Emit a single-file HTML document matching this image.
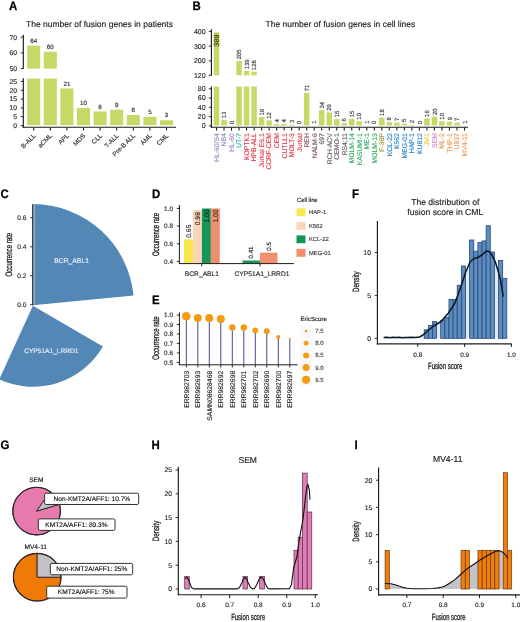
<!DOCTYPE html>
<html><head><meta charset="utf-8"><style>
html,body{margin:0;padding:0;background:#fff;}
body{width:520px;height:622px;overflow:hidden;}
svg{display:block;filter:blur(0.35px);font-family:"Liberation Sans", sans-serif;will-change:transform;text-rendering:geometricPrecision;}
</style></head><body>
<svg width="520" height="622" viewBox="0 0 520 622">
<rect x="0" y="0" width="520" height="622" fill="#fff"/>
<text x="9" y="10.2" font-size="12.3" fill="#000" font-weight="bold" textLength="8.26" lengthAdjust="spacingAndGlyphs" stroke="#000" stroke-width="0.25">A</text>
<text x="26" y="26.7" font-size="8.5" fill="#222" stroke="#222" stroke-width="0.15">The number of fusion genes in patients</text>
<line x1="23.3" y1="34.8" x2="23.3" y2="68.8" stroke="#1a1a1a" stroke-width="1.15"/>
<line x1="23.3" y1="78.3" x2="23.3" y2="127.7" stroke="#1a1a1a" stroke-width="1.15"/>
<line x1="20.7" y1="37.2" x2="23.3" y2="37.2" stroke="#1a1a1a" stroke-width="0.9"/>
<text x="17.1" y="39.54" font-size="6.8" fill="#2a2a2a" text-anchor="end" stroke="#2a2a2a" stroke-width="0.15">70</text>
<line x1="20.7" y1="52.9" x2="23.3" y2="52.9" stroke="#1a1a1a" stroke-width="0.9"/>
<text x="17.1" y="55.24" font-size="6.8" fill="#2a2a2a" text-anchor="end" stroke="#2a2a2a" stroke-width="0.15">60</text>
<line x1="20.7" y1="68.6" x2="23.3" y2="68.6" stroke="#1a1a1a" stroke-width="0.9"/>
<text x="17.1" y="70.94" font-size="6.8" fill="#2a2a2a" text-anchor="end" stroke="#2a2a2a" stroke-width="0.15">50</text>
<line x1="20.7" y1="81.4" x2="23.3" y2="81.4" stroke="#1a1a1a" stroke-width="0.9"/>
<text x="17.1" y="83.74" font-size="6.8" fill="#2a2a2a" text-anchor="end" stroke="#2a2a2a" stroke-width="0.15">25</text>
<line x1="20.7" y1="90.24" x2="23.3" y2="90.24" stroke="#1a1a1a" stroke-width="0.9"/>
<text x="17.1" y="92.58" font-size="6.8" fill="#2a2a2a" text-anchor="end" stroke="#2a2a2a" stroke-width="0.15">20</text>
<line x1="20.7" y1="99.08" x2="23.3" y2="99.08" stroke="#1a1a1a" stroke-width="0.9"/>
<text x="17.1" y="101.42" font-size="6.8" fill="#2a2a2a" text-anchor="end" stroke="#2a2a2a" stroke-width="0.15">15</text>
<line x1="20.7" y1="107.92" x2="23.3" y2="107.92" stroke="#1a1a1a" stroke-width="0.9"/>
<text x="17.1" y="110.26" font-size="6.8" fill="#2a2a2a" text-anchor="end" stroke="#2a2a2a" stroke-width="0.15">10</text>
<line x1="20.7" y1="116.76" x2="23.3" y2="116.76" stroke="#1a1a1a" stroke-width="0.9"/>
<text x="17.1" y="119.1" font-size="6.8" fill="#2a2a2a" text-anchor="end" stroke="#2a2a2a" stroke-width="0.15">5</text>
<line x1="20.7" y1="125.6" x2="23.3" y2="125.6" stroke="#1a1a1a" stroke-width="0.9"/>
<text x="17.1" y="127.94" font-size="6.8" fill="#2a2a2a" text-anchor="end" stroke="#2a2a2a" stroke-width="0.15">0</text>
<rect x="27.2" y="45.6" width="13" height="23" fill="#c6d866"/>
<rect x="27.2" y="78.6" width="13" height="46.6" fill="#c6d866"/>
<text x="33.7" y="42.7" font-size="6.2" fill="#2a2a2a" text-anchor="middle" stroke="#2a2a2a" stroke-width="0.15">64</text>
<line x1="33.7" y1="127.5" x2="33.7" y2="130.4" stroke="#1a1a1a" stroke-width="1.1"/>
<text transform="translate(36.01,136.11) rotate(-45)" x="0" y="0" font-size="6.4" fill="#2a2a2a" text-anchor="end" stroke="#2a2a2a" stroke-width="0.15">B-ALL</text>
<rect x="43.8" y="51.8" width="13" height="16.8" fill="#c6d866"/>
<rect x="43.8" y="78.6" width="13" height="46.6" fill="#c6d866"/>
<text x="50.3" y="48.9" font-size="6.2" fill="#2a2a2a" text-anchor="middle" stroke="#2a2a2a" stroke-width="0.15">60</text>
<line x1="50.3" y1="127.5" x2="50.3" y2="130.4" stroke="#1a1a1a" stroke-width="1.1"/>
<text transform="translate(52.61,136.11) rotate(-45)" x="0" y="0" font-size="6.4" fill="#2a2a2a" text-anchor="end" stroke="#2a2a2a" stroke-width="0.15">aCML</text>
<rect x="60.4" y="88.47" width="13" height="36.73" fill="#c6d866"/>
<text x="66.9" y="85.57" font-size="6.2" fill="#2a2a2a" text-anchor="middle" stroke="#2a2a2a" stroke-width="0.15">21</text>
<line x1="66.9" y1="127.5" x2="66.9" y2="130.4" stroke="#1a1a1a" stroke-width="1.1"/>
<text transform="translate(69.21,136.11) rotate(-45)" x="0" y="0" font-size="6.4" fill="#2a2a2a" text-anchor="end" stroke="#2a2a2a" stroke-width="0.15">APL</text>
<rect x="77" y="107.92" width="13" height="17.28" fill="#c6d866"/>
<text x="83.5" y="105.02" font-size="6.2" fill="#2a2a2a" text-anchor="middle" stroke="#2a2a2a" stroke-width="0.15">10</text>
<line x1="83.5" y1="127.5" x2="83.5" y2="130.4" stroke="#1a1a1a" stroke-width="1.1"/>
<text transform="translate(85.81,136.11) rotate(-45)" x="0" y="0" font-size="6.4" fill="#2a2a2a" text-anchor="end" stroke="#2a2a2a" stroke-width="0.15">MDS</text>
<rect x="93.6" y="111.46" width="13" height="13.74" fill="#c6d866"/>
<text x="100.1" y="108.56" font-size="6.2" fill="#2a2a2a" text-anchor="middle" stroke="#2a2a2a" stroke-width="0.15">8</text>
<line x1="100.1" y1="127.5" x2="100.1" y2="130.4" stroke="#1a1a1a" stroke-width="1.1"/>
<text transform="translate(102.41,136.11) rotate(-45)" x="0" y="0" font-size="6.4" fill="#2a2a2a" text-anchor="end" stroke="#2a2a2a" stroke-width="0.15">CLL</text>
<rect x="110.2" y="109.69" width="13" height="15.51" fill="#c6d866"/>
<text x="116.7" y="106.79" font-size="6.2" fill="#2a2a2a" text-anchor="middle" stroke="#2a2a2a" stroke-width="0.15">9</text>
<line x1="116.7" y1="127.5" x2="116.7" y2="130.4" stroke="#1a1a1a" stroke-width="1.1"/>
<text transform="translate(119.01,136.11) rotate(-45)" x="0" y="0" font-size="6.4" fill="#2a2a2a" text-anchor="end" stroke="#2a2a2a" stroke-width="0.15">T-ALL</text>
<rect x="126.8" y="114.99" width="13" height="10.21" fill="#c6d866"/>
<text x="133.3" y="112.09" font-size="6.2" fill="#2a2a2a" text-anchor="middle" stroke="#2a2a2a" stroke-width="0.15">6</text>
<line x1="133.3" y1="127.5" x2="133.3" y2="130.4" stroke="#1a1a1a" stroke-width="1.1"/>
<text transform="translate(135.61,136.11) rotate(-45)" x="0" y="0" font-size="6.4" fill="#2a2a2a" text-anchor="end" stroke="#2a2a2a" stroke-width="0.15">Pre-B ALL</text>
<rect x="143.4" y="116.76" width="13" height="8.44" fill="#c6d866"/>
<text x="149.9" y="113.86" font-size="6.2" fill="#2a2a2a" text-anchor="middle" stroke="#2a2a2a" stroke-width="0.15">5</text>
<line x1="149.9" y1="127.5" x2="149.9" y2="130.4" stroke="#1a1a1a" stroke-width="1.1"/>
<text transform="translate(152.21,136.11) rotate(-45)" x="0" y="0" font-size="6.4" fill="#2a2a2a" text-anchor="end" stroke="#2a2a2a" stroke-width="0.15">AML</text>
<rect x="160" y="120.3" width="13" height="4.9" fill="#c6d866"/>
<text x="166.5" y="117.4" font-size="6.2" fill="#2a2a2a" text-anchor="middle" stroke="#2a2a2a" stroke-width="0.15">3</text>
<line x1="166.5" y1="127.5" x2="166.5" y2="130.4" stroke="#1a1a1a" stroke-width="1.1"/>
<text transform="translate(168.81,136.11) rotate(-45)" x="0" y="0" font-size="6.4" fill="#2a2a2a" text-anchor="end" stroke="#2a2a2a" stroke-width="0.15">CML</text>
<line x1="22.75" y1="127.2" x2="176" y2="127.2" stroke="#1a1a1a" stroke-width="1.15"/>
<text x="192.5" y="10.3" font-size="12.3" fill="#000" font-weight="bold" textLength="8.26" lengthAdjust="spacingAndGlyphs" stroke="#000" stroke-width="0.25">B</text>
<text x="265.5" y="26.7" font-size="8.5" fill="#222" stroke="#222" stroke-width="0.15">The number of fusion genes in cell lines</text>
<line x1="211.4" y1="29.2" x2="211.4" y2="75.5" stroke="#1a1a1a" stroke-width="1.15"/>
<line x1="211.4" y1="86.4" x2="211.4" y2="127.7" stroke="#1a1a1a" stroke-width="1.15"/>
<line x1="208.8" y1="31.4" x2="211.4" y2="31.4" stroke="#1a1a1a" stroke-width="0.9"/>
<text x="205.6" y="33.81" font-size="7" fill="#2a2a2a" text-anchor="end" stroke="#2a2a2a" stroke-width="0.15">400</text>
<line x1="208.8" y1="46.1" x2="211.4" y2="46.1" stroke="#1a1a1a" stroke-width="0.9"/>
<text x="205.6" y="48.51" font-size="7" fill="#2a2a2a" text-anchor="end" stroke="#2a2a2a" stroke-width="0.15">300</text>
<line x1="208.8" y1="60.8" x2="211.4" y2="60.8" stroke="#1a1a1a" stroke-width="0.9"/>
<text x="205.6" y="63.21" font-size="7" fill="#2a2a2a" text-anchor="end" stroke="#2a2a2a" stroke-width="0.15">200</text>
<line x1="208.8" y1="75.3" x2="211.4" y2="75.3" stroke="#1a1a1a" stroke-width="0.9"/>
<text x="205.6" y="77.71" font-size="7" fill="#2a2a2a" text-anchor="end" stroke="#2a2a2a" stroke-width="0.15">120</text>
<line x1="208.8" y1="88.8" x2="211.4" y2="88.8" stroke="#1a1a1a" stroke-width="0.9"/>
<text x="205.6" y="91.2" font-size="7" fill="#2a2a2a" text-anchor="end" stroke="#2a2a2a" stroke-width="0.15">80</text>
<line x1="208.8" y1="98.07" x2="211.4" y2="98.07" stroke="#1a1a1a" stroke-width="0.9"/>
<text x="205.6" y="100.48" font-size="7" fill="#2a2a2a" text-anchor="end" stroke="#2a2a2a" stroke-width="0.15">60</text>
<line x1="208.8" y1="107.35" x2="211.4" y2="107.35" stroke="#1a1a1a" stroke-width="0.9"/>
<text x="205.6" y="109.76" font-size="7" fill="#2a2a2a" text-anchor="end" stroke="#2a2a2a" stroke-width="0.15">40</text>
<line x1="208.8" y1="116.62" x2="211.4" y2="116.62" stroke="#1a1a1a" stroke-width="0.9"/>
<text x="205.6" y="119.03" font-size="7" fill="#2a2a2a" text-anchor="end" stroke="#2a2a2a" stroke-width="0.15">20</text>
<line x1="208.8" y1="125.9" x2="211.4" y2="125.9" stroke="#1a1a1a" stroke-width="0.9"/>
<text x="205.6" y="128.31" font-size="7" fill="#2a2a2a" text-anchor="end" stroke="#2a2a2a" stroke-width="0.15">0</text>
<rect x="213.75" y="32.3" width="5.5" height="43" fill="#c6d866"/>
<rect x="213.75" y="86.6" width="5.5" height="38.9" fill="#c6d866"/>
<text transform="translate(219.02,46.6) rotate(-90)" x="0" y="0" font-size="7.2" fill="#4a5810" stroke="#4a5810" stroke-width="0.35">389</text>
<line x1="216.5" y1="127.5" x2="216.5" y2="130.6" stroke="#1a1a1a" stroke-width="1.1"/>
<text transform="translate(218.88,133.2) rotate(-90)" x="0" y="0" font-size="6.8" fill="#9a8ec2" text-anchor="end" stroke="#9a8ec2" stroke-width="0.15">HL-60/S4</text>
<rect x="221.26" y="119.87" width="5.5" height="5.63" fill="#c6d866"/>
<text transform="translate(226.11,118.27) rotate(-90)" x="0" y="0" font-size="6" fill="#3a3a3a" stroke="#3a3a3a" stroke-width="0.15">13</text>
<line x1="224.01" y1="127.5" x2="224.01" y2="130.6" stroke="#1a1a1a" stroke-width="1.1"/>
<text transform="translate(226.39,133.2) rotate(-90)" x="0" y="0" font-size="6.8" fill="#9a8ec2" text-anchor="end" stroke="#9a8ec2" stroke-width="0.15">NB4</text>
<text transform="translate(233.63,124.3) rotate(-90)" x="0" y="0" font-size="6" fill="#3a3a3a" stroke="#3a3a3a" stroke-width="0.15">0</text>
<line x1="231.53" y1="127.5" x2="231.53" y2="130.6" stroke="#1a1a1a" stroke-width="1.1"/>
<text transform="translate(233.91,133.2) rotate(-90)" x="0" y="0" font-size="6.8" fill="#9a8ec2" text-anchor="end" stroke="#9a8ec2" stroke-width="0.15">HL-60</text>
<rect x="236.29" y="60.9" width="5.5" height="14.4" fill="#c6d866"/>
<rect x="236.29" y="86.6" width="5.5" height="38.9" fill="#c6d866"/>
<text transform="translate(241.14,59.3) rotate(-90)" x="0" y="0" font-size="6" fill="#3a3a3a" stroke="#3a3a3a" stroke-width="0.15">205</text>
<line x1="239.04" y1="127.5" x2="239.04" y2="130.6" stroke="#1a1a1a" stroke-width="1.1"/>
<text transform="translate(241.42,133.2) rotate(-90)" x="0" y="0" font-size="6.8" fill="#3cb4c0" text-anchor="end" stroke="#3cb4c0" stroke-width="0.15">UT-7</text>
<rect x="243.81" y="70.9" width="5.5" height="4.4" fill="#c6d866"/>
<rect x="243.81" y="86.6" width="5.5" height="38.9" fill="#c6d866"/>
<text transform="translate(248.66,69.3) rotate(-90)" x="0" y="0" font-size="6" fill="#3a3a3a" stroke="#3a3a3a" stroke-width="0.15">139</text>
<line x1="246.56" y1="127.5" x2="246.56" y2="130.6" stroke="#1a1a1a" stroke-width="1.1"/>
<text transform="translate(248.94,133.2) rotate(-90)" x="0" y="0" font-size="6.8" fill="#e4404e" text-anchor="end" stroke="#e4404e" stroke-width="0.15">KOPTK1</text>
<rect x="251.32" y="71.8" width="5.5" height="3.5" fill="#c6d866"/>
<rect x="251.32" y="86.6" width="5.5" height="38.9" fill="#c6d866"/>
<text transform="translate(256.18,70.2) rotate(-90)" x="0" y="0" font-size="6" fill="#3a3a3a" stroke="#3a3a3a" stroke-width="0.15">128</text>
<line x1="254.07" y1="127.5" x2="254.07" y2="130.6" stroke="#1a1a1a" stroke-width="1.1"/>
<text transform="translate(256.45,133.2) rotate(-90)" x="0" y="0" font-size="6.8" fill="#e4404e" text-anchor="end" stroke="#e4404e" stroke-width="0.15">HPB-ALL</text>
<rect x="258.84" y="117.09" width="5.5" height="8.41" fill="#c6d866"/>
<text transform="translate(263.69,115.49) rotate(-90)" x="0" y="0" font-size="6" fill="#3a3a3a" stroke="#3a3a3a" stroke-width="0.15">19</text>
<line x1="261.59" y1="127.5" x2="261.59" y2="130.6" stroke="#1a1a1a" stroke-width="1.1"/>
<text transform="translate(263.97,133.2) rotate(-90)" x="0" y="0" font-size="6.8" fill="#e4404e" text-anchor="end" stroke="#e4404e" stroke-width="0.15">Jurkat E6.1</text>
<rect x="266.36" y="120.33" width="5.5" height="5.17" fill="#c6d866"/>
<text transform="translate(271.21,118.73) rotate(-90)" x="0" y="0" font-size="6" fill="#3a3a3a" stroke="#3a3a3a" stroke-width="0.15">12</text>
<line x1="269.11" y1="127.5" x2="269.11" y2="130.6" stroke="#1a1a1a" stroke-width="1.1"/>
<text transform="translate(271.49,133.2) rotate(-90)" x="0" y="0" font-size="6.8" fill="#e4404e" text-anchor="end" stroke="#e4404e" stroke-width="0.15">CCRF-CEM</text>
<rect x="273.87" y="124.04" width="5.5" height="1.46" fill="#c6d866"/>
<text transform="translate(278.72,122.44) rotate(-90)" x="0" y="0" font-size="6" fill="#3a3a3a" stroke="#3a3a3a" stroke-width="0.15">4</text>
<line x1="276.62" y1="127.5" x2="276.62" y2="130.6" stroke="#1a1a1a" stroke-width="1.1"/>
<text transform="translate(279,133.2) rotate(-90)" x="0" y="0" font-size="6.8" fill="#e4404e" text-anchor="end" stroke="#e4404e" stroke-width="0.15">CEM</text>
<rect x="281.38" y="124.04" width="5.5" height="1.46" fill="#c6d866"/>
<text transform="translate(286.24,122.44) rotate(-90)" x="0" y="0" font-size="6" fill="#3a3a3a" stroke="#3a3a3a" stroke-width="0.15">4</text>
<line x1="284.13" y1="127.5" x2="284.13" y2="130.6" stroke="#1a1a1a" stroke-width="1.1"/>
<text transform="translate(286.51,133.2) rotate(-90)" x="0" y="0" font-size="6.8" fill="#e4404e" text-anchor="end" stroke="#e4404e" stroke-width="0.15">CUTLL1</text>
<rect x="288.9" y="124.51" width="5.5" height="0.99" fill="#c6d866"/>
<text transform="translate(293.75,122.91) rotate(-90)" x="0" y="0" font-size="6" fill="#3a3a3a" stroke="#3a3a3a" stroke-width="0.15">3</text>
<line x1="291.65" y1="127.5" x2="291.65" y2="130.6" stroke="#1a1a1a" stroke-width="1.1"/>
<text transform="translate(294.03,133.2) rotate(-90)" x="0" y="0" font-size="6.8" fill="#e4404e" text-anchor="end" stroke="#e4404e" stroke-width="0.15">MOLT-3</text>
<text transform="translate(301.26,124.3) rotate(-90)" x="0" y="0" font-size="6" fill="#3a3a3a" stroke="#3a3a3a" stroke-width="0.15">0</text>
<line x1="299.16" y1="127.5" x2="299.16" y2="130.6" stroke="#1a1a1a" stroke-width="1.1"/>
<text transform="translate(301.54,133.2) rotate(-90)" x="0" y="0" font-size="6.8" fill="#e4404e" text-anchor="end" stroke="#e4404e" stroke-width="0.15">Jurkat</text>
<rect x="303.93" y="92.97" width="5.5" height="32.53" fill="#c6d866"/>
<text transform="translate(308.78,91.37) rotate(-90)" x="0" y="0" font-size="6" fill="#3a3a3a" stroke="#3a3a3a" stroke-width="0.15">71</text>
<line x1="306.68" y1="127.5" x2="306.68" y2="130.6" stroke="#1a1a1a" stroke-width="1.1"/>
<text transform="translate(309.06,133.2) rotate(-90)" x="0" y="0" font-size="6.8" fill="#86586a" text-anchor="end" stroke="#86586a" stroke-width="0.15">REH</text>
<rect x="311.44" y="125.44" width="5.5" height="0.06" fill="#c6d866"/>
<text transform="translate(316.3,123.84) rotate(-90)" x="0" y="0" font-size="6" fill="#3a3a3a" stroke="#3a3a3a" stroke-width="0.15">1</text>
<line x1="314.19" y1="127.5" x2="314.19" y2="130.6" stroke="#1a1a1a" stroke-width="1.1"/>
<text transform="translate(316.57,133.2) rotate(-90)" x="0" y="0" font-size="6.8" fill="#86586a" text-anchor="end" stroke="#86586a" stroke-width="0.15">NALM-6</text>
<rect x="318.96" y="110.13" width="5.5" height="15.37" fill="#c6d866"/>
<text transform="translate(323.81,108.53) rotate(-90)" x="0" y="0" font-size="6" fill="#3a3a3a" stroke="#3a3a3a" stroke-width="0.15">34</text>
<line x1="321.71" y1="127.5" x2="321.71" y2="130.6" stroke="#1a1a1a" stroke-width="1.1"/>
<text transform="translate(324.09,133.2) rotate(-90)" x="0" y="0" font-size="6.8" fill="#6a6468" text-anchor="end" stroke="#6a6468" stroke-width="0.15">697</text>
<rect x="326.48" y="112.45" width="5.5" height="13.05" fill="#c6d866"/>
<text transform="translate(331.33,110.85) rotate(-90)" x="0" y="0" font-size="6" fill="#3a3a3a" stroke="#3a3a3a" stroke-width="0.15">29</text>
<line x1="329.23" y1="127.5" x2="329.23" y2="130.6" stroke="#1a1a1a" stroke-width="1.1"/>
<text transform="translate(331.61,133.2) rotate(-90)" x="0" y="0" font-size="6.8" fill="#6a6468" text-anchor="end" stroke="#6a6468" stroke-width="0.15">RCH-ACV</text>
<rect x="333.99" y="118.94" width="5.5" height="6.56" fill="#c6d866"/>
<text transform="translate(338.84,117.34) rotate(-90)" x="0" y="0" font-size="6" fill="#3a3a3a" stroke="#3a3a3a" stroke-width="0.15">15</text>
<line x1="336.74" y1="127.5" x2="336.74" y2="130.6" stroke="#1a1a1a" stroke-width="1.1"/>
<text transform="translate(339.12,133.2) rotate(-90)" x="0" y="0" font-size="6.8" fill="#6a6468" text-anchor="end" stroke="#6a6468" stroke-width="0.15">CEMO-1</text>
<rect x="341.5" y="123.12" width="5.5" height="2.38" fill="#c6d866"/>
<text transform="translate(346.36,121.52) rotate(-90)" x="0" y="0" font-size="6" fill="#3a3a3a" stroke="#3a3a3a" stroke-width="0.15">6</text>
<line x1="344.25" y1="127.5" x2="344.25" y2="130.6" stroke="#1a1a1a" stroke-width="1.1"/>
<text transform="translate(346.63,133.2) rotate(-90)" x="0" y="0" font-size="6.8" fill="#6a6468" text-anchor="end" stroke="#6a6468" stroke-width="0.15">RS4;11</text>
<rect x="349.02" y="118.94" width="5.5" height="6.56" fill="#c6d866"/>
<text transform="translate(353.87,117.34) rotate(-90)" x="0" y="0" font-size="6" fill="#3a3a3a" stroke="#3a3a3a" stroke-width="0.15">15</text>
<line x1="351.77" y1="127.5" x2="351.77" y2="130.6" stroke="#1a1a1a" stroke-width="1.1"/>
<text transform="translate(354.15,133.2) rotate(-90)" x="0" y="0" font-size="6.8" fill="#3aae6a" text-anchor="end" stroke="#3aae6a" stroke-width="0.15">MOLM-14</text>
<rect x="356.53" y="121.26" width="5.5" height="4.24" fill="#c6d866"/>
<text transform="translate(361.38,119.66) rotate(-90)" x="0" y="0" font-size="6" fill="#3a3a3a" stroke="#3a3a3a" stroke-width="0.15">10</text>
<line x1="359.28" y1="127.5" x2="359.28" y2="130.6" stroke="#1a1a1a" stroke-width="1.1"/>
<text transform="translate(361.66,133.2) rotate(-90)" x="0" y="0" font-size="6.8" fill="#3aae6a" text-anchor="end" stroke="#3aae6a" stroke-width="0.15">KASUMI-1</text>
<rect x="364.05" y="125.44" width="5.5" height="0.06" fill="#c6d866"/>
<text transform="translate(368.9,123.84) rotate(-90)" x="0" y="0" font-size="6" fill="#3a3a3a" stroke="#3a3a3a" stroke-width="0.15">1</text>
<line x1="366.8" y1="127.5" x2="366.8" y2="130.6" stroke="#1a1a1a" stroke-width="1.1"/>
<text transform="translate(369.18,133.2) rotate(-90)" x="0" y="0" font-size="6.8" fill="#3aae6a" text-anchor="end" stroke="#3aae6a" stroke-width="0.15">ME-1</text>
<text transform="translate(376.42,124.3) rotate(-90)" x="0" y="0" font-size="6" fill="#3a3a3a" stroke="#3a3a3a" stroke-width="0.15">0</text>
<line x1="374.31" y1="127.5" x2="374.31" y2="130.6" stroke="#1a1a1a" stroke-width="1.1"/>
<text transform="translate(376.69,133.2) rotate(-90)" x="0" y="0" font-size="6.8" fill="#3aae6a" text-anchor="end" stroke="#3aae6a" stroke-width="0.15">MOLM-13</text>
<rect x="379.08" y="117.55" width="5.5" height="7.95" fill="#c6d866"/>
<text transform="translate(383.93,115.95) rotate(-90)" x="0" y="0" font-size="6" fill="#3a3a3a" stroke="#3a3a3a" stroke-width="0.15">18</text>
<line x1="381.83" y1="127.5" x2="381.83" y2="130.6" stroke="#1a1a1a" stroke-width="1.1"/>
<text transform="translate(384.21,133.2) rotate(-90)" x="0" y="0" font-size="6.8" fill="#98a040" text-anchor="end" stroke="#98a040" stroke-width="0.15">F-36P</text>
<rect x="386.6" y="122.19" width="5.5" height="3.31" fill="#c6d866"/>
<text transform="translate(391.45,120.59) rotate(-90)" x="0" y="0" font-size="6" fill="#3a3a3a" stroke="#3a3a3a" stroke-width="0.15">8</text>
<line x1="389.35" y1="127.5" x2="389.35" y2="130.6" stroke="#1a1a1a" stroke-width="1.1"/>
<text transform="translate(391.73,133.2) rotate(-90)" x="0" y="0" font-size="6.8" fill="#2f86cf" text-anchor="end" stroke="#2f86cf" stroke-width="0.15">KCL-22</text>
<rect x="394.11" y="122.65" width="5.5" height="2.85" fill="#c6d866"/>
<text transform="translate(398.96,121.05) rotate(-90)" x="0" y="0" font-size="6" fill="#3a3a3a" stroke="#3a3a3a" stroke-width="0.15">7</text>
<line x1="396.86" y1="127.5" x2="396.86" y2="130.6" stroke="#1a1a1a" stroke-width="1.1"/>
<text transform="translate(399.24,133.2) rotate(-90)" x="0" y="0" font-size="6.8" fill="#2f86cf" text-anchor="end" stroke="#2f86cf" stroke-width="0.15">K562</text>
<rect x="401.62" y="123.58" width="5.5" height="1.92" fill="#c6d866"/>
<text transform="translate(406.48,121.98) rotate(-90)" x="0" y="0" font-size="6" fill="#3a3a3a" stroke="#3a3a3a" stroke-width="0.15">5</text>
<line x1="404.38" y1="127.5" x2="404.38" y2="130.6" stroke="#1a1a1a" stroke-width="1.1"/>
<text transform="translate(406.75,133.2) rotate(-90)" x="0" y="0" font-size="6.8" fill="#2f86cf" text-anchor="end" stroke="#2f86cf" stroke-width="0.15">MEG-01</text>
<rect x="409.14" y="124.97" width="5.5" height="0.53" fill="#c6d866"/>
<text transform="translate(413.99,123.37) rotate(-90)" x="0" y="0" font-size="6" fill="#3a3a3a" stroke="#3a3a3a" stroke-width="0.15">2</text>
<line x1="411.89" y1="127.5" x2="411.89" y2="130.6" stroke="#1a1a1a" stroke-width="1.1"/>
<text transform="translate(414.27,133.2) rotate(-90)" x="0" y="0" font-size="6.8" fill="#2f86cf" text-anchor="end" stroke="#2f86cf" stroke-width="0.15">HAP-1</text>
<text transform="translate(421.5,124.3) rotate(-90)" x="0" y="0" font-size="6" fill="#3a3a3a" stroke="#3a3a3a" stroke-width="0.15">0</text>
<line x1="419.4" y1="127.5" x2="419.4" y2="130.6" stroke="#1a1a1a" stroke-width="1.1"/>
<text transform="translate(421.78,133.2) rotate(-90)" x="0" y="0" font-size="6.8" fill="#2f86cf" text-anchor="end" stroke="#2f86cf" stroke-width="0.15">KU812</text>
<rect x="424.17" y="118.48" width="5.5" height="7.02" fill="#c6d866"/>
<text transform="translate(429.02,116.88) rotate(-90)" x="0" y="0" font-size="6" fill="#3a3a3a" stroke="#3a3a3a" stroke-width="0.15">16</text>
<line x1="426.92" y1="127.5" x2="426.92" y2="130.6" stroke="#1a1a1a" stroke-width="1.1"/>
<text transform="translate(429.3,133.2) rotate(-90)" x="0" y="0" font-size="6.8" fill="#f3cc55" text-anchor="end" stroke="#f3cc55" stroke-width="0.15">JM1</text>
<rect x="431.69" y="116.62" width="5.5" height="8.88" fill="#c6d866"/>
<text transform="translate(436.54,115.02) rotate(-90)" x="0" y="0" font-size="6" fill="#3a3a3a" stroke="#3a3a3a" stroke-width="0.15">20</text>
<line x1="434.44" y1="127.5" x2="434.44" y2="130.6" stroke="#1a1a1a" stroke-width="1.1"/>
<text transform="translate(436.81,133.2) rotate(-90)" x="0" y="0" font-size="6.8" fill="#da8ad2" text-anchor="end" stroke="#da8ad2" stroke-width="0.15">SEM</text>
<rect x="439.2" y="121.26" width="5.5" height="4.24" fill="#c6d866"/>
<text transform="translate(444.05,119.66) rotate(-90)" x="0" y="0" font-size="6" fill="#3a3a3a" stroke="#3a3a3a" stroke-width="0.15">10</text>
<line x1="441.95" y1="127.5" x2="441.95" y2="130.6" stroke="#1a1a1a" stroke-width="1.1"/>
<text transform="translate(444.33,133.2) rotate(-90)" x="0" y="0" font-size="6.8" fill="#f09a52" text-anchor="end" stroke="#f09a52" stroke-width="0.15">ML-2</text>
<rect x="446.72" y="121.73" width="5.5" height="3.77" fill="#c6d866"/>
<text transform="translate(451.57,120.13) rotate(-90)" x="0" y="0" font-size="6" fill="#3a3a3a" stroke="#3a3a3a" stroke-width="0.15">9</text>
<line x1="449.47" y1="127.5" x2="449.47" y2="130.6" stroke="#1a1a1a" stroke-width="1.1"/>
<text transform="translate(451.85,133.2) rotate(-90)" x="0" y="0" font-size="6.8" fill="#f09a52" text-anchor="end" stroke="#f09a52" stroke-width="0.15">THP-1</text>
<rect x="454.23" y="122.65" width="5.5" height="2.85" fill="#c6d866"/>
<text transform="translate(459.08,121.05) rotate(-90)" x="0" y="0" font-size="6" fill="#3a3a3a" stroke="#3a3a3a" stroke-width="0.15">7</text>
<line x1="456.98" y1="127.5" x2="456.98" y2="130.6" stroke="#1a1a1a" stroke-width="1.1"/>
<text transform="translate(459.36,133.2) rotate(-90)" x="0" y="0" font-size="6.8" fill="#f09a52" text-anchor="end" stroke="#f09a52" stroke-width="0.15">U937</text>
<rect x="461.75" y="125.44" width="5.5" height="0.06" fill="#c6d866"/>
<text transform="translate(466.6,123.84) rotate(-90)" x="0" y="0" font-size="6" fill="#3a3a3a" stroke="#3a3a3a" stroke-width="0.15">1</text>
<line x1="464.5" y1="127.5" x2="464.5" y2="130.6" stroke="#1a1a1a" stroke-width="1.1"/>
<text transform="translate(466.88,133.2) rotate(-90)" x="0" y="0" font-size="6.8" fill="#f09a52" text-anchor="end" stroke="#f09a52" stroke-width="0.15">MV4-11</text>
<line x1="210.85" y1="127.2" x2="468" y2="127.2" stroke="#1a1a1a" stroke-width="1.15"/>
<text x="0.5" y="198.4" font-size="12.3" fill="#000" font-weight="bold" textLength="8.26" lengthAdjust="spacingAndGlyphs" stroke="#000" stroke-width="0.25">C</text>
<path d="M32.9,305.2 L32.9,204.1 A101.1,101.1 0 0 1 133.53,295.51 Z" fill="#5387b6"/>
<line x1="34.1" y1="204.3" x2="34.1" y2="304.5" stroke="#aabfd8" stroke-width="1.3"/>
<path d="M32.9,305.8 L102.91,346.54 A81,81 0 0 1 -0.82,379.45 Z" fill="#5387b6"/>
<line x1="32.7" y1="204.2" x2="32.7" y2="305.2" stroke="#1a1a1a" stroke-width="1"/>
<line x1="30.1" y1="304.7" x2="32.7" y2="304.7" stroke="#1a1a1a" stroke-width="0.9"/>
<text x="26.4" y="306.97" font-size="6.6" fill="#2a2a2a" text-anchor="end" stroke="#2a2a2a" stroke-width="0.15">0.0</text>
<line x1="30.1" y1="275.75" x2="32.7" y2="275.75" stroke="#1a1a1a" stroke-width="0.9"/>
<text x="26.4" y="278.02" font-size="6.6" fill="#2a2a2a" text-anchor="end" stroke="#2a2a2a" stroke-width="0.15">0.2</text>
<line x1="30.1" y1="246.8" x2="32.7" y2="246.8" stroke="#1a1a1a" stroke-width="0.9"/>
<text x="26.4" y="249.07" font-size="6.6" fill="#2a2a2a" text-anchor="end" stroke="#2a2a2a" stroke-width="0.15">0.4</text>
<line x1="30.1" y1="217.85" x2="32.7" y2="217.85" stroke="#1a1a1a" stroke-width="0.9"/>
<text x="26.4" y="220.12" font-size="6.6" fill="#2a2a2a" text-anchor="end" stroke="#2a2a2a" stroke-width="0.15">0.6</text>
<text transform="translate(11.99,254.6) rotate(-90)" x="0" y="0" font-size="9.4" fill="#222" text-anchor="middle" textLength="43.6" lengthAdjust="spacingAndGlyphs" stroke="#222" stroke-width="0.3">Occurrence rate</text>
<text x="71.6" y="263.34" font-size="6.8" fill="#e8f0fa" text-anchor="middle" stroke="#e8f0fa" stroke-width="0.15">BCR_ABL1</text>
<text x="51.3" y="353.27" font-size="6.6" fill="#e8f0fa" text-anchor="middle" stroke="#e8f0fa" stroke-width="0.15">CYP51A1_LRRD1</text>
<text x="152" y="197.8" font-size="12.3" fill="#000" font-weight="bold" textLength="8.26" lengthAdjust="spacingAndGlyphs" stroke="#000" stroke-width="0.25">D</text>
<rect x="184" y="239.35" width="8.95" height="23.95" fill="#f8e84e"/>
<rect x="192.95" y="210.24" width="8.95" height="53.06" fill="#fcd4b7"/>
<rect x="201.9" y="208.48" width="8.95" height="54.82" fill="#15955a"/>
<rect x="210.85" y="208.48" width="8.95" height="54.82" fill="#f0906e"/>
<rect x="242.5" y="260.52" width="17.5" height="2.78" fill="#15955a"/>
<rect x="260" y="252.58" width="17.5" height="10.72" fill="#f0906e"/>
<line x1="179.4" y1="205" x2="179.4" y2="264" stroke="#1a1a1a" stroke-width="1"/>
<line x1="176.8" y1="261.4" x2="179.4" y2="261.4" stroke="#1a1a1a" stroke-width="0.9"/>
<text x="173" y="263.6" font-size="6.4" fill="#2a2a2a" text-anchor="end" stroke="#2a2a2a" stroke-width="0.15">0.4</text>
<line x1="176.8" y1="243.76" x2="179.4" y2="243.76" stroke="#1a1a1a" stroke-width="0.9"/>
<text x="173" y="245.96" font-size="6.4" fill="#2a2a2a" text-anchor="end" stroke="#2a2a2a" stroke-width="0.15">0.6</text>
<line x1="176.8" y1="226.12" x2="179.4" y2="226.12" stroke="#1a1a1a" stroke-width="0.9"/>
<text x="173" y="228.32" font-size="6.4" fill="#2a2a2a" text-anchor="end" stroke="#2a2a2a" stroke-width="0.15">0.8</text>
<line x1="176.8" y1="208.48" x2="179.4" y2="208.48" stroke="#1a1a1a" stroke-width="0.9"/>
<text x="173" y="210.68" font-size="6.4" fill="#2a2a2a" text-anchor="end" stroke="#2a2a2a" stroke-width="0.15">1.0</text>
<line x1="178.9" y1="263.6" x2="294" y2="263.6" stroke="#1a1a1a" stroke-width="1"/>
<line x1="201.7" y1="263.6" x2="201.7" y2="266.4" stroke="#1a1a1a" stroke-width="0.9"/>
<line x1="260" y1="263.6" x2="260" y2="266.4" stroke="#1a1a1a" stroke-width="0.9"/>
<text transform="translate(158.79,234.4) rotate(-90)" x="0" y="0" font-size="9.4" fill="#222" text-anchor="middle" textLength="43" lengthAdjust="spacingAndGlyphs" stroke="#222" stroke-width="0.3">Occurrence rate</text>
<text x="201.9" y="276.1" font-size="6.7" fill="#2a2a2a" text-anchor="middle" stroke="#2a2a2a" stroke-width="0.15">BCR_ABL1</text>
<text x="262" y="276.1" font-size="6.7" fill="#2a2a2a" text-anchor="middle" stroke="#2a2a2a" stroke-width="0.15">CYP51A1_LRRD1</text>
<text transform="translate(190.88,237.8) rotate(-90)" x="0" y="0" font-size="6.8" fill="#2a2a2a" stroke="#2a2a2a" stroke-width="0.15">0.65</text>
<text transform="translate(199.78,225.3) rotate(-90)" x="0" y="0" font-size="6.8" fill="#2a2a2a" stroke="#2a2a2a" stroke-width="0.15">0.98</text>
<text transform="translate(208.78,222.6) rotate(-90)" x="0" y="0" font-size="6.8" fill="#14241a" stroke="#14241a" stroke-width="0.15">1.00</text>
<text transform="translate(217.68,222.6) rotate(-90)" x="0" y="0" font-size="6.8" fill="#3a2418" stroke="#3a2418" stroke-width="0.15">1.00</text>
<text transform="translate(253.47,258.5) rotate(-90)" x="0" y="0" font-size="6.2" fill="#2a2a2a" stroke="#2a2a2a" stroke-width="0.15">0.41</text>
<text transform="translate(271.07,250.7) rotate(-90)" x="0" y="0" font-size="6.2" fill="#2a2a2a" stroke="#2a2a2a" stroke-width="0.15">0.5</text>
<text x="297" y="201.6" font-size="6.1" fill="#222" textLength="20.6" lengthAdjust="spacingAndGlyphs" stroke="#222" stroke-width="0.15">Cell line</text>
<rect x="296.5" y="208.3" width="9" height="7.9" fill="#f8e84e"/>
<text x="308.9" y="214.33" font-size="5.9" fill="#3c3c3c" stroke="#3c3c3c" stroke-width="0.15">HAP-1</text>
<rect x="296.5" y="221.83" width="9" height="7.9" fill="#fcd4b7"/>
<text x="308.9" y="227.86" font-size="5.9" fill="#3c3c3c" stroke="#3c3c3c" stroke-width="0.15">K562</text>
<rect x="296.5" y="235.36" width="9" height="7.9" fill="#15955a"/>
<text x="308.9" y="241.39" font-size="5.9" fill="#3c3c3c" stroke="#3c3c3c" stroke-width="0.15">KCL-22</text>
<rect x="296.5" y="248.89" width="9" height="7.9" fill="#f0906e"/>
<text x="308.9" y="254.92" font-size="5.9" fill="#3c3c3c" stroke="#3c3c3c" stroke-width="0.15">MEG-01</text>
<text x="152" y="303.8" font-size="12.3" fill="#000" font-weight="bold" textLength="7.63" lengthAdjust="spacingAndGlyphs" stroke="#000" stroke-width="0.25">E</text>
<line x1="179.4" y1="312.5" x2="179.4" y2="365" stroke="#1a1a1a" stroke-width="1"/>
<line x1="176.8" y1="362.4" x2="179.4" y2="362.4" stroke="#1a1a1a" stroke-width="0.9"/>
<text x="173" y="364.6" font-size="6.4" fill="#2a2a2a" text-anchor="end" stroke="#2a2a2a" stroke-width="0.15">0.5</text>
<line x1="176.8" y1="352.92" x2="179.4" y2="352.92" stroke="#1a1a1a" stroke-width="0.9"/>
<text x="173" y="355.12" font-size="6.4" fill="#2a2a2a" text-anchor="end" stroke="#2a2a2a" stroke-width="0.15">0.6</text>
<line x1="176.8" y1="343.44" x2="179.4" y2="343.44" stroke="#1a1a1a" stroke-width="0.9"/>
<text x="173" y="345.64" font-size="6.4" fill="#2a2a2a" text-anchor="end" stroke="#2a2a2a" stroke-width="0.15">0.7</text>
<line x1="176.8" y1="333.96" x2="179.4" y2="333.96" stroke="#1a1a1a" stroke-width="0.9"/>
<text x="173" y="336.16" font-size="6.4" fill="#2a2a2a" text-anchor="end" stroke="#2a2a2a" stroke-width="0.15">0.8</text>
<line x1="176.8" y1="324.48" x2="179.4" y2="324.48" stroke="#1a1a1a" stroke-width="0.9"/>
<text x="173" y="326.68" font-size="6.4" fill="#2a2a2a" text-anchor="end" stroke="#2a2a2a" stroke-width="0.15">0.9</text>
<line x1="176.8" y1="315" x2="179.4" y2="315" stroke="#1a1a1a" stroke-width="0.9"/>
<text x="173" y="317.2" font-size="6.4" fill="#2a2a2a" text-anchor="end" stroke="#2a2a2a" stroke-width="0.15">1.0</text>
<text transform="translate(158.79,338) rotate(-90)" x="0" y="0" font-size="9.4" fill="#222" text-anchor="middle" textLength="43.5" lengthAdjust="spacingAndGlyphs" stroke="#222" stroke-width="0.3">Occurrence rate</text>
<line x1="186.3" y1="316.2" x2="186.3" y2="364.5" stroke="#48488a" stroke-width="1"/>
<circle cx="186.3" cy="316.2" r="4.3" fill="#f59b12"/>
<line x1="186.3" y1="364.8" x2="186.3" y2="367.5" stroke="#1a1a1a" stroke-width="0.9"/>
<text transform="translate(188.68,370.8) rotate(-90)" x="0" y="0" font-size="6.8" fill="#2a2a2a" text-anchor="end" stroke="#2a2a2a" stroke-width="0.15">ERR982703</text>
<line x1="197.8" y1="318.1" x2="197.8" y2="364.5" stroke="#48488a" stroke-width="1"/>
<circle cx="197.8" cy="318.1" r="4" fill="#f59b12"/>
<line x1="197.8" y1="364.8" x2="197.8" y2="367.5" stroke="#1a1a1a" stroke-width="0.9"/>
<text transform="translate(200.18,370.8) rotate(-90)" x="0" y="0" font-size="6.8" fill="#2a2a2a" text-anchor="end" stroke="#2a2a2a" stroke-width="0.15">ERR982693</text>
<line x1="209.3" y1="318.1" x2="209.3" y2="364.5" stroke="#48488a" stroke-width="1"/>
<circle cx="209.3" cy="318.1" r="4" fill="#f59b12"/>
<line x1="209.3" y1="364.8" x2="209.3" y2="367.5" stroke="#1a1a1a" stroke-width="0.9"/>
<text transform="translate(211.68,370.8) rotate(-90)" x="0" y="0" font-size="6.8" fill="#2a2a2a" text-anchor="end" stroke="#2a2a2a" stroke-width="0.15">SAMN08628468</text>
<line x1="220.8" y1="319" x2="220.8" y2="364.5" stroke="#48488a" stroke-width="1"/>
<circle cx="220.8" cy="319" r="4" fill="#f59b12"/>
<line x1="220.8" y1="364.8" x2="220.8" y2="367.5" stroke="#1a1a1a" stroke-width="0.9"/>
<text transform="translate(223.18,370.8) rotate(-90)" x="0" y="0" font-size="6.8" fill="#2a2a2a" text-anchor="end" stroke="#2a2a2a" stroke-width="0.15">ERR982692</text>
<line x1="232.3" y1="327.5" x2="232.3" y2="364.5" stroke="#48488a" stroke-width="1"/>
<circle cx="232.3" cy="327.5" r="3.2" fill="#f59b12"/>
<line x1="232.3" y1="364.8" x2="232.3" y2="367.5" stroke="#1a1a1a" stroke-width="0.9"/>
<text transform="translate(234.68,370.8) rotate(-90)" x="0" y="0" font-size="6.8" fill="#2a2a2a" text-anchor="end" stroke="#2a2a2a" stroke-width="0.15">ERR982698</text>
<line x1="243.8" y1="327.5" x2="243.8" y2="364.5" stroke="#48488a" stroke-width="1"/>
<circle cx="243.8" cy="327.5" r="3.2" fill="#f59b12"/>
<line x1="243.8" y1="364.8" x2="243.8" y2="367.5" stroke="#1a1a1a" stroke-width="0.9"/>
<text transform="translate(246.18,370.8) rotate(-90)" x="0" y="0" font-size="6.8" fill="#2a2a2a" text-anchor="end" stroke="#2a2a2a" stroke-width="0.15">ERR982701</text>
<line x1="255.3" y1="330.4" x2="255.3" y2="364.5" stroke="#48488a" stroke-width="1"/>
<circle cx="255.3" cy="330.4" r="2.9" fill="#f59b12"/>
<line x1="255.3" y1="364.8" x2="255.3" y2="367.5" stroke="#1a1a1a" stroke-width="0.9"/>
<text transform="translate(257.68,370.8) rotate(-90)" x="0" y="0" font-size="6.8" fill="#2a2a2a" text-anchor="end" stroke="#2a2a2a" stroke-width="0.15">ERR982702</text>
<line x1="266.8" y1="331.2" x2="266.8" y2="364.5" stroke="#48488a" stroke-width="1"/>
<circle cx="266.8" cy="331.2" r="2.9" fill="#f59b12"/>
<line x1="266.8" y1="364.8" x2="266.8" y2="367.5" stroke="#1a1a1a" stroke-width="0.9"/>
<text transform="translate(269.18,370.8) rotate(-90)" x="0" y="0" font-size="6.8" fill="#2a2a2a" text-anchor="end" stroke="#2a2a2a" stroke-width="0.15">ERR982690</text>
<line x1="278.3" y1="337" x2="278.3" y2="364.5" stroke="#48488a" stroke-width="1"/>
<circle cx="278.3" cy="337" r="2" fill="#f59b12"/>
<line x1="278.3" y1="364.8" x2="278.3" y2="367.5" stroke="#1a1a1a" stroke-width="0.9"/>
<text transform="translate(280.68,370.8) rotate(-90)" x="0" y="0" font-size="6.8" fill="#2a2a2a" text-anchor="end" stroke="#2a2a2a" stroke-width="0.15">ERR982700</text>
<line x1="289.8" y1="338.8" x2="289.8" y2="364.5" stroke="#48488a" stroke-width="1"/>
<circle cx="289.8" cy="338.8" r="1" fill="#f59b12"/>
<line x1="289.8" y1="364.8" x2="289.8" y2="367.5" stroke="#1a1a1a" stroke-width="0.9"/>
<text transform="translate(292.18,370.8) rotate(-90)" x="0" y="0" font-size="6.8" fill="#2a2a2a" text-anchor="end" stroke="#2a2a2a" stroke-width="0.15">ERR982697</text>
<line x1="178.9" y1="364.8" x2="297.5" y2="364.8" stroke="#1a1a1a" stroke-width="1"/>
<text x="300.5" y="320.8" font-size="6.1" fill="#222" stroke="#222" stroke-width="0.15">EricScore</text>
<rect x="300.5" y="324.8" width="11" height="61" fill="#f8f8fa"/>
<circle cx="306.1" cy="331" r="1.3" fill="#f59b12"/>
<text x="315.2" y="333.06" font-size="6" fill="#444" stroke="#444" stroke-width="0.15">7.5</text>
<circle cx="306.1" cy="343.2" r="2.4" fill="#f59b12"/>
<text x="315.2" y="345.26" font-size="6" fill="#444" stroke="#444" stroke-width="0.15">8.0</text>
<circle cx="306.1" cy="355.4" r="3" fill="#f59b12"/>
<text x="315.2" y="357.46" font-size="6" fill="#444" stroke="#444" stroke-width="0.15">8.5</text>
<circle cx="306.1" cy="367.6" r="3.5" fill="#f59b12"/>
<text x="315.2" y="369.66" font-size="6" fill="#444" stroke="#444" stroke-width="0.15">9.0</text>
<circle cx="306.1" cy="379.8" r="4.1" fill="#f59b12"/>
<text x="315.2" y="381.86" font-size="6" fill="#444" stroke="#444" stroke-width="0.15">9.5</text>
<text x="352" y="197.6" font-size="12.3" fill="#000" font-weight="bold" textLength="6.99" lengthAdjust="spacingAndGlyphs" stroke="#000" stroke-width="0.25">F</text>
<text x="445.3" y="205" font-size="8.6" fill="#222" text-anchor="middle" stroke="#222" stroke-width="0.15">The distribution of</text>
<text x="445.3" y="215.4" font-size="8.6" fill="#222" text-anchor="middle" stroke="#222" stroke-width="0.15">fusion score in CML</text>
<path d="M383.6,338.3 L383.6,337.5 L387,337.2 L390,337.7 L393,337.3 L396,337.6 L399,337.2 L402,337.7 L405,337.4 L408,337.6 L411,337.3 L415,337.4 L419.5,337 L423.5,334.6 L427.5,331 L433,326.5 L441,321.5 L448.5,313 L455,303 L461.1,286 L465.7,272 L470.3,261.5 L474,258.5 L478,257.5 L482.5,254.5 L486.5,250.9 L489,251.5 L491.7,254.6 L495,261 L497.8,269.9 L500.5,280 L503.2,296.6 L503.2,338.3 Z" fill="#e3eaf3"/>
<rect x="424.2" y="329.8" width="4.13" height="8.5" fill="#5d8dbf" stroke="#22497a" stroke-width="0.8"/>
<rect x="428.33" y="325.6" width="4.13" height="12.7" fill="#5d8dbf" stroke="#22497a" stroke-width="0.8"/>
<rect x="432.46" y="321.6" width="4.13" height="16.7" fill="#5d8dbf" stroke="#22497a" stroke-width="0.8"/>
<rect x="440.72" y="320.3" width="4.13" height="18" fill="#5d8dbf" stroke="#22497a" stroke-width="0.8"/>
<rect x="444.85" y="317.5" width="4.13" height="20.8" fill="#5d8dbf" stroke="#22497a" stroke-width="0.8"/>
<rect x="448.98" y="299.4" width="4.13" height="38.9" fill="#5d8dbf" stroke="#22497a" stroke-width="0.8"/>
<rect x="453.11" y="299.4" width="4.13" height="38.9" fill="#5d8dbf" stroke="#22497a" stroke-width="0.8"/>
<rect x="457.24" y="285.3" width="4.13" height="53" fill="#5d8dbf" stroke="#22497a" stroke-width="0.8"/>
<rect x="461.37" y="266" width="4.13" height="72.3" fill="#5d8dbf" stroke="#22497a" stroke-width="0.8"/>
<rect x="469.63" y="240" width="4.13" height="98.3" fill="#5d8dbf" stroke="#22497a" stroke-width="0.8"/>
<rect x="473.76" y="251.2" width="4.13" height="87.1" fill="#5d8dbf" stroke="#22497a" stroke-width="0.8"/>
<rect x="477.89" y="242.6" width="4.13" height="95.7" fill="#5d8dbf" stroke="#22497a" stroke-width="0.8"/>
<rect x="482.02" y="240.9" width="4.13" height="97.4" fill="#5d8dbf" stroke="#22497a" stroke-width="0.8"/>
<rect x="486.15" y="225.7" width="4.13" height="112.6" fill="#5d8dbf" stroke="#22497a" stroke-width="0.8"/>
<rect x="490.28" y="252" width="4.13" height="86.3" fill="#5d8dbf" stroke="#22497a" stroke-width="0.8"/>
<rect x="498.54" y="260.4" width="4.13" height="77.9" fill="#5d8dbf" stroke="#22497a" stroke-width="0.8"/>
<rect x="502.67" y="278.5" width="4.13" height="59.8" fill="#5d8dbf" stroke="#22497a" stroke-width="0.8"/>
<path d="M383.6,337.5 L387,337.2 L390,337.7 L393,337.3 L396,337.6 L399,337.2 L402,337.7 L405,337.4 L408,337.6 L411,337.3 L415,337.4 L419.5,337 L423.5,334.6 L427.5,331 L433,326.5 L441,321.5 L448.5,313 L455,303 L461.1,286 L465.7,272 L470.3,261.5 L474,258.5 L478,257.5 L482.5,254.5 L486.5,250.9 L489,251.5 L491.7,254.6 L495,261 L497.8,269.9 L500.5,280 L503.2,296.6" fill="none" stroke="#0b1626" stroke-width="1.55" stroke-linejoin="round"/>
<line x1="377.4" y1="221" x2="377.4" y2="344.4" stroke="#1a1a1a" stroke-width="1.15"/>
<line x1="374.8" y1="338.3" x2="377.4" y2="338.3" stroke="#1a1a1a" stroke-width="0.9"/>
<text x="371" y="340.67" font-size="6.9" fill="#2a2a2a" text-anchor="end" stroke="#2a2a2a" stroke-width="0.15">0</text>
<line x1="374.8" y1="295.4" x2="377.4" y2="295.4" stroke="#1a1a1a" stroke-width="0.9"/>
<text x="371" y="297.77" font-size="6.9" fill="#2a2a2a" text-anchor="end" stroke="#2a2a2a" stroke-width="0.15">5</text>
<line x1="374.8" y1="252.5" x2="377.4" y2="252.5" stroke="#1a1a1a" stroke-width="0.9"/>
<text x="371" y="254.87" font-size="6.9" fill="#2a2a2a" text-anchor="end" stroke="#2a2a2a" stroke-width="0.15">10</text>
<line x1="376.85" y1="343.9" x2="511.8" y2="343.9" stroke="#1a1a1a" stroke-width="1.15"/>
<line x1="417.8" y1="343.9" x2="417.8" y2="346.9" stroke="#1a1a1a" stroke-width="1"/>
<text x="417.8" y="356.5" font-size="6.4" fill="#2a2a2a" text-anchor="middle" stroke="#2a2a2a" stroke-width="0.15">0.8</text>
<line x1="464.6" y1="343.9" x2="464.6" y2="346.9" stroke="#1a1a1a" stroke-width="1"/>
<text x="464.6" y="356.5" font-size="6.4" fill="#2a2a2a" text-anchor="middle" stroke="#2a2a2a" stroke-width="0.15">0.9</text>
<line x1="511.4" y1="343.9" x2="511.4" y2="346.9" stroke="#1a1a1a" stroke-width="1"/>
<text x="511.4" y="356.5" font-size="6.4" fill="#2a2a2a" text-anchor="middle" stroke="#2a2a2a" stroke-width="0.15">1.0</text>
<text transform="translate(358.62,281.7) rotate(-90)" x="0" y="0" font-size="9.2" fill="#222" text-anchor="middle" textLength="20.4" lengthAdjust="spacingAndGlyphs" stroke="#222" stroke-width="0.3">Density</text>
<text x="445.2" y="369" font-size="9.2" fill="#222" text-anchor="middle" textLength="34.4" lengthAdjust="spacingAndGlyphs" stroke="#222" stroke-width="0.3">Fusion score</text>
<text x="0.5" y="449.2" font-size="12.3" fill="#000" font-weight="bold" textLength="8.9" lengthAdjust="spacingAndGlyphs" stroke="#000" stroke-width="0.25">G</text>
<text x="36.3" y="482.27" font-size="6.6" text-anchor="middle" stroke="#333" stroke-width="0.15">SEM</text>
<text x="35.7" y="548.87" font-size="6.6" text-anchor="middle" stroke="#333" stroke-width="0.15">MV4-11</text>
<path d="M36.6,511.1 L59.42,504.34 A23.8,23.8 0 1 1 50.25,491.6 Z" fill="#e67aad" stroke="#2e2228" stroke-width="0.9" stroke-linejoin="round"/>
<path d="M36.6,511.1 L50.25,491.6 A23.8,23.8 0 0 1 59.42,504.34 Z" fill="#c0c2c6" stroke="#2e2228" stroke-width="0.9" stroke-linejoin="round"/>
<circle cx="36.6" cy="511.1" r="23.8" fill="none" stroke="#2e2228" stroke-width="1.1"/>
<path d="M37.2,577.2 L61,577.2 A23.8,23.8 0 1 1 37.2,553.4 Z" fill="#f07a06" stroke="#2e2228" stroke-width="0.9" stroke-linejoin="round"/>
<path d="M37.2,577.2 L37.2,553.4 A23.8,23.8 0 0 1 61,577.2 Z" fill="#c0c2c6" stroke="#2e2228" stroke-width="0.9" stroke-linejoin="round"/>
<circle cx="37.2" cy="577.2" r="23.8" fill="none" stroke="#2e2228" stroke-width="1.1"/>
<rect x="44.6" y="493.2" width="94.1" height="11.3" rx="1.6" fill="#fff" stroke="#333" stroke-width="1.0"/>
<text x="53.6" y="501.12" font-size="6.6" stroke="#333" stroke-width="0.15">Non-KMT2A/AFF1: 10.7%</text>
<rect x="38.3" y="518.9" width="76.7" height="11.5" rx="1.6" fill="#fff" stroke="#333" stroke-width="1.0"/>
<text x="45.3" y="526.92" font-size="6.6" stroke="#333" stroke-width="0.15">KMT2A/AFF1: 89.3%</text>
<rect x="50.3" y="563.4" width="82.4" height="11.4" rx="1.6" fill="#fff" stroke="#333" stroke-width="1.0"/>
<text x="56.3" y="571.37" font-size="6.6" stroke="#333" stroke-width="0.15">Non-KMT2A/AFF1: 25%</text>
<rect x="46.7" y="586.2" width="80.3" height="11.9" rx="1.6" fill="#fff" stroke="#333" stroke-width="1.0"/>
<text x="57.8" y="594.42" font-size="6.6" stroke="#333" stroke-width="0.15">KMT2A/AFF1: 75%</text>
<text x="151.5" y="449.3" font-size="12.3" fill="#000" font-weight="bold" textLength="8.26" lengthAdjust="spacingAndGlyphs" stroke="#000" stroke-width="0.25">H</text>
<text x="247.7" y="462.6" font-size="8.5" fill="#222" text-anchor="middle" stroke="#222" stroke-width="0.15">SEM</text>
<rect x="184.7" y="576.4" width="4.5" height="12.6" fill="#e07cb6" stroke="#5a2a48" stroke-width="0.7"/>
<rect x="243" y="576.4" width="4.6" height="12.6" fill="#e07cb6" stroke="#5a2a48" stroke-width="0.7"/>
<rect x="259.7" y="576.4" width="4.8" height="12.6" fill="#e07cb6" stroke="#5a2a48" stroke-width="0.7"/>
<rect x="294" y="550.3" width="4.2" height="38.7" fill="#e07cb6" stroke="#5a2a48" stroke-width="0.7"/>
<rect x="298.2" y="537.2" width="4.2" height="51.8" fill="#e07cb6" stroke="#5a2a48" stroke-width="0.7"/>
<rect x="302.4" y="473.1" width="4.8" height="115.9" fill="#e07cb6" stroke="#5a2a48" stroke-width="0.7"/>
<rect x="307.2" y="512" width="4.6" height="77" fill="#e07cb6" stroke="#5a2a48" stroke-width="0.7"/>
<path d="M185.2,578.5 L186.8,577.4 L188.3,579 L189.8,583 L191.5,587.5 L193.5,588.9 L237,588.9 L239.5,587.5 L241.8,583 L243.6,578.8 L245,577.4 L246.5,578.8 L248.3,583 L250.5,587.5 L253,588.9 L254.5,588.5 L256.6,585 L258.7,580 L260.3,577.6 L261.7,577.4 L263.2,578.8 L265.2,583.5 L267.5,588 L270,588.9 L289.4,588.7 L291.5,584.4 L293.6,568 L296.8,557.1 L299.9,536.2 L303,519.5 L305.1,500.6 L306.8,487 L307.9,484.3 L309.3,490 L310,499.6" fill="none" stroke="#111" stroke-width="1.1" stroke-linejoin="round"/>
<line x1="178.3" y1="467" x2="178.3" y2="595.3" stroke="#1a1a1a" stroke-width="1.15"/>
<line x1="175.7" y1="589" x2="178.3" y2="589" stroke="#1a1a1a" stroke-width="0.9"/>
<text x="172.1" y="591.37" font-size="6.9" fill="#2a2a2a" text-anchor="end" stroke="#2a2a2a" stroke-width="0.15">0</text>
<line x1="175.7" y1="565.2" x2="178.3" y2="565.2" stroke="#1a1a1a" stroke-width="0.9"/>
<text x="172.1" y="567.57" font-size="6.9" fill="#2a2a2a" text-anchor="end" stroke="#2a2a2a" stroke-width="0.15">5</text>
<line x1="175.7" y1="541.4" x2="178.3" y2="541.4" stroke="#1a1a1a" stroke-width="0.9"/>
<text x="172.1" y="543.77" font-size="6.9" fill="#2a2a2a" text-anchor="end" stroke="#2a2a2a" stroke-width="0.15">10</text>
<line x1="175.7" y1="517.6" x2="178.3" y2="517.6" stroke="#1a1a1a" stroke-width="0.9"/>
<text x="172.1" y="519.97" font-size="6.9" fill="#2a2a2a" text-anchor="end" stroke="#2a2a2a" stroke-width="0.15">15</text>
<line x1="175.7" y1="493.8" x2="178.3" y2="493.8" stroke="#1a1a1a" stroke-width="0.9"/>
<text x="172.1" y="496.17" font-size="6.9" fill="#2a2a2a" text-anchor="end" stroke="#2a2a2a" stroke-width="0.15">20</text>
<line x1="175.7" y1="470" x2="178.3" y2="470" stroke="#1a1a1a" stroke-width="0.9"/>
<text x="172.1" y="472.37" font-size="6.9" fill="#2a2a2a" text-anchor="end" stroke="#2a2a2a" stroke-width="0.15">25</text>
<line x1="177.75" y1="594.7" x2="318" y2="594.7" stroke="#1a1a1a" stroke-width="1.15"/>
<line x1="201.1" y1="594.7" x2="201.1" y2="598" stroke="#1a1a1a" stroke-width="1"/>
<text x="201.1" y="607.04" font-size="6.5" fill="#2a2a2a" text-anchor="middle" stroke="#2a2a2a" stroke-width="0.15">0.6</text>
<line x1="229.65" y1="594.7" x2="229.65" y2="598" stroke="#1a1a1a" stroke-width="1"/>
<text x="229.65" y="607.04" font-size="6.5" fill="#2a2a2a" text-anchor="middle" stroke="#2a2a2a" stroke-width="0.15">0.7</text>
<line x1="258.2" y1="594.7" x2="258.2" y2="598" stroke="#1a1a1a" stroke-width="1"/>
<text x="258.2" y="607.04" font-size="6.5" fill="#2a2a2a" text-anchor="middle" stroke="#2a2a2a" stroke-width="0.15">0.8</text>
<line x1="286.75" y1="594.7" x2="286.75" y2="598" stroke="#1a1a1a" stroke-width="1"/>
<text x="286.75" y="607.04" font-size="6.5" fill="#2a2a2a" text-anchor="middle" stroke="#2a2a2a" stroke-width="0.15">0.9</text>
<line x1="315.3" y1="594.7" x2="315.3" y2="598" stroke="#1a1a1a" stroke-width="1"/>
<text x="315.3" y="607.04" font-size="6.5" fill="#2a2a2a" text-anchor="middle" stroke="#2a2a2a" stroke-width="0.15">1.0</text>
<text transform="translate(158.52,531) rotate(-90)" x="0" y="0" font-size="9.2" fill="#222" text-anchor="middle" textLength="20.4" lengthAdjust="spacingAndGlyphs" stroke="#222" stroke-width="0.3">Density</text>
<text x="248.2" y="620" font-size="9.2" fill="#222" text-anchor="middle" textLength="34" lengthAdjust="spacingAndGlyphs" stroke="#222" stroke-width="0.3">Fusion score</text>
<text x="354.6" y="449.2" font-size="12.3" fill="#000" font-weight="bold" textLength="3.18" lengthAdjust="spacingAndGlyphs" stroke="#000" stroke-width="0.25">I</text>
<text x="447.7" y="462.3" font-size="8.6" fill="#222" text-anchor="middle" stroke="#222" stroke-width="0.15">MV4-11</text>
<path d="M384.9,589 L384.9,583.5 L391,583.7 L395,584.7 L399,586.1 L403,587.4 L407,588.3 L412,588.7 L415,588.8 L425,588.8 L433,588.5 L438,587.9 L442,587 L445,586 L450,583 L455,579.6 L460,575 L465,570.6 L470,566.7 L475,563.5 L480,560 L485,557.1 L490,554.2 L495,551.5 L498,550.6 L501,551.2 L503.5,552.8 L505.5,554.8 L507.6,558.2 L507.6,589 Z" fill="#c3c4c9"/>
<rect x="385.1" y="550.3" width="4.22" height="38.7" fill="#f07d0c" stroke="#6a3a10" stroke-width="0.7"/>
<rect x="461.06" y="550.3" width="4.22" height="38.7" fill="#f07d0c" stroke="#6a3a10" stroke-width="0.7"/>
<rect x="465.28" y="550.3" width="4.22" height="38.7" fill="#f07d0c" stroke="#6a3a10" stroke-width="0.7"/>
<rect x="477.94" y="550.3" width="4.22" height="38.7" fill="#f07d0c" stroke="#6a3a10" stroke-width="0.7"/>
<rect x="482.16" y="550.3" width="4.22" height="38.7" fill="#f07d0c" stroke="#6a3a10" stroke-width="0.7"/>
<rect x="486.38" y="550.3" width="4.22" height="38.7" fill="#f07d0c" stroke="#6a3a10" stroke-width="0.7"/>
<rect x="490.6" y="550.3" width="4.22" height="38.7" fill="#f07d0c" stroke="#6a3a10" stroke-width="0.7"/>
<rect x="494.82" y="550.3" width="4.22" height="38.7" fill="#f07d0c" stroke="#6a3a10" stroke-width="0.7"/>
<rect x="507.48" y="550.3" width="4.22" height="38.7" fill="#f07d0c" stroke="#6a3a10" stroke-width="0.7"/>
<rect x="503.26" y="472.7" width="4.22" height="116.3" fill="#f07d0c" stroke="#6a3a10" stroke-width="0.7"/>
<path d="M384.9,583.5 L391,583.7 L395,584.7 L399,586.1 L403,587.4 L407,588.3 L412,588.7 L415,588.8 L425,588.8 L433,588.5 L438,587.9 L442,587 L445,586 L450,583 L455,579.6 L460,575 L465,570.6 L470,566.7 L475,563.5 L480,560 L485,557.1 L490,554.2 L495,551.5 L498,550.6 L501,551.2 L503.5,552.8 L505.5,554.8 L507.6,558.2" fill="none" stroke="#111" stroke-width="1.1" stroke-linejoin="round"/>
<line x1="378.6" y1="467.5" x2="378.6" y2="595.4" stroke="#1a1a1a" stroke-width="1.15"/>
<line x1="376" y1="589" x2="378.6" y2="589" stroke="#1a1a1a" stroke-width="0.9"/>
<text x="372.4" y="591.37" font-size="6.9" fill="#2a2a2a" text-anchor="end" stroke="#2a2a2a" stroke-width="0.15">0</text>
<line x1="376" y1="561.8" x2="378.6" y2="561.8" stroke="#1a1a1a" stroke-width="0.9"/>
<text x="372.4" y="564.17" font-size="6.9" fill="#2a2a2a" text-anchor="end" stroke="#2a2a2a" stroke-width="0.15">5</text>
<line x1="376" y1="534.6" x2="378.6" y2="534.6" stroke="#1a1a1a" stroke-width="0.9"/>
<text x="372.4" y="536.97" font-size="6.9" fill="#2a2a2a" text-anchor="end" stroke="#2a2a2a" stroke-width="0.15">10</text>
<line x1="376" y1="507.4" x2="378.6" y2="507.4" stroke="#1a1a1a" stroke-width="0.9"/>
<text x="372.4" y="509.77" font-size="6.9" fill="#2a2a2a" text-anchor="end" stroke="#2a2a2a" stroke-width="0.15">15</text>
<line x1="376" y1="480.2" x2="378.6" y2="480.2" stroke="#1a1a1a" stroke-width="0.9"/>
<text x="372.4" y="482.57" font-size="6.9" fill="#2a2a2a" text-anchor="end" stroke="#2a2a2a" stroke-width="0.15">20</text>
<line x1="378.05" y1="594.8" x2="520" y2="594.8" stroke="#1a1a1a" stroke-width="1.15"/>
<line x1="406.9" y1="594.8" x2="406.9" y2="598" stroke="#1a1a1a" stroke-width="1"/>
<text x="406.9" y="607.04" font-size="6.5" fill="#2a2a2a" text-anchor="middle" stroke="#2a2a2a" stroke-width="0.15">0.7</text>
<line x1="443.2" y1="594.8" x2="443.2" y2="598" stroke="#1a1a1a" stroke-width="1"/>
<text x="443.2" y="607.04" font-size="6.5" fill="#2a2a2a" text-anchor="middle" stroke="#2a2a2a" stroke-width="0.15">0.8</text>
<line x1="479.5" y1="594.8" x2="479.5" y2="598" stroke="#1a1a1a" stroke-width="1"/>
<text x="479.5" y="607.04" font-size="6.5" fill="#2a2a2a" text-anchor="middle" stroke="#2a2a2a" stroke-width="0.15">0.9</text>
<line x1="515.8" y1="594.8" x2="515.8" y2="598" stroke="#1a1a1a" stroke-width="1"/>
<text x="515.8" y="607.04" font-size="6.5" fill="#2a2a2a" text-anchor="middle" stroke="#2a2a2a" stroke-width="0.15">1.0</text>
<text transform="translate(358.52,531.5) rotate(-90)" x="0" y="0" font-size="9.2" fill="#222" text-anchor="middle" textLength="20.4" lengthAdjust="spacingAndGlyphs" stroke="#222" stroke-width="0.3">Density</text>
<text x="448.6" y="620" font-size="9.2" fill="#222" text-anchor="middle" textLength="33.6" lengthAdjust="spacingAndGlyphs" stroke="#222" stroke-width="0.3">Fusion score</text>
</svg>
</body></html>
